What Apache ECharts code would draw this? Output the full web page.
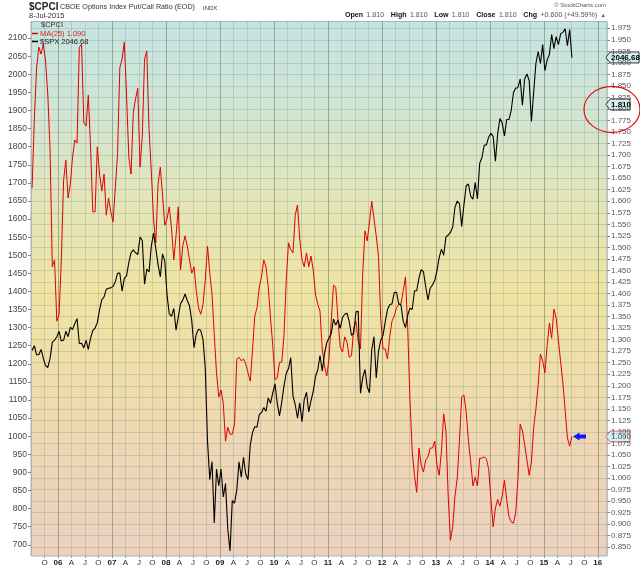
<!DOCTYPE html>
<html><head><meta charset="utf-8">
<script src="https://cdn.jsdelivr.net/npm/echarts@6/dist/echarts.min.js"></script>
<style>html,body{margin:0;padding:0;background:#fff}#c{width:640px;height:569px}</style>
</head><body><div id="c"></div>
<script>
// ---- data (semi-monthly samples starting 8-Jul-2005) ----
const startYear = 2005.52;
const perYear = 24;

const cpciMA25 = [
1.629,1.778,1.889,1.934,1.919,1.941,1.904,1.830,1.711,1.458,
1.473,1.340,1.355,1.473,1.644,1.689,1.607,1.637,1.696,1.733,
1.726,1.934,1.940,1.770,1.763,1.830,1.718,1.577,1.577,1.718,
1.659,1.622,1.659,1.570,1.607,1.577,1.555,1.629,1.703,1.889,
1.908,1.945,1.830,1.696,1.659,1.793,1.822,1.845,1.674,1.741,
1.908,1.926,1.755,1.666,1.562,1.510,1.637,1.674,1.614,1.548,
1.562,1.588,1.540,1.473,1.525,1.588,
1.451,1.503,1.525,1.503,
1.473,1.444,1.458,1.406,1.369,1.355,1.377,1.429,1.503,1.444,
1.399,1.310,1.228,1.176,1.191,1.162,1.080,1.110,1.095,1.095,
1.117,1.258,1.262,1.254,1.258,1.247,1.228,1.210,1.277,1.351,
1.369,1.414,1.436,1.473,1.458,1.414,1.347,1.288,1.213,1.217,
1.251,1.251,1.310,1.429,1.510,1.495,1.488,1.570,1.592,1.518,
1.473,1.458,1.488,1.458,1.481,1.451,1.399,1.377,1.362,
1.280,1.243,1.221,1.258,1.340,1.418,1.414,1.343,1.284,1.273,
1.306,1.295,1.262,1.265,1.325,1.340,1.295,1.280,1.444,1.536,
1.514,1.555,1.600,1.562,1.525,1.481,1.347,1.280,1.280,1.258,
1.306,1.340,1.351,1.369,1.377,1.377,1.406,1.436,1.325,1.169,
1.058,1.006,0.969,1.065,1.028,1.013,1.039,1.046,1.065,1.065,
1.080,1.028,1.006,1.058,1.139,1.102,0.961,0.865,0.894,0.961,0.998,1.080,
1.176,1.180,1.143,1.080,1.035,0.983,1.002,0.983,1.043,1.043,
1.046,1.041,1.019,0.954,0.894,0.935,0.954,0.939,0.961,0.995,
0.954,0.917,0.905,0.902,0.924,0.998,1.117,1.102,1.072,1.039,
1.006,1.035,1.110,1.150,1.202,1.269,1.254,1.228,1.288,1.336,
1.303,1.366,1.347,1.299,1.251,1.206,1.147,1.087,1.069,1.090
];

const spx = [
1237,1250,1225,1225,1240,1215,1195,1190,1215,1260,1265,1275,
1290,1263,1265,1290,1275,1301,1295,1311,1325,1256,1257,1244,1265,1240,1271,1292,1299,1314,1350,1377,1385,1406,1409,1410,
1414,1427,1450,1451,1401,1436,1443,1480,1507,1515,1507,1502,1550,1541,1420,1462,1454,1525,1561,1519,1475,1440,1504,1484,
1390,1338,1331,1353,1293,1330,1366,1376,1393,1375,1360,1318,1245,1282,1296,1292,1267,1188,985,880,930,760,909,863,
909,832,869,743,683,822,815,851,929,887,942,895,880,976,1010,1026,1025,1060,1065,1079,1069,1106,1091,1120,
1145,1091,1056,1095,1139,1174,1187,1217,1111,1087,1050,1092,1040,1102,1121,1067,1098,1124,1165,1183,1223,1180,1228,1258,
1272,1283,1324,1307,1321,1298,1328,1337,1340,1317,1279,1284,1344,1345,1119,1162,1185,1136,1120,1238,1275,1161,1234,1265,
1278,1316,1350,1363,1366,1397,1398,1366,1363,1318,1300,1335,1354,1350,1402,1402,1437,1460,1455,1413,1377,1409,1418,1430,
1457,1494,1517,1500,1551,1556,1563,1578,1632,1650,1643,1580,1640,1692,1697,1663,1655,1701,1656,1754,1770,1804,1805,1827,
1837,1828,1760,1836,1878,1866,1830,1875,1875,1900,1949,1962,1963,1987,1915,1988,2001,1983,1870,1950,2031,2063,2030,2082,
2010,2040,2055,2110,2071,2104,2082,2112,2116,2126,2079,2124,2046
];

const leftTicks = [700,750,800,850,900,950,1000,1050,1100,1150,1200,1250,1300,1350,1400,1450,1500,1550,1600,1650,1700,1750,1800,1850,1900,1950,2000,2050,2100];
const rightTicks = [0.850,0.875,0.900,0.925,0.950,0.975,1.000,1.025,1.050,1.075,1.100,1.125,1.150,1.175,1.200,1.225,1.250,1.275,1.300,1.325,1.350,1.375,1.400,1.425,1.450,1.475,1.500,1.525,1.550,1.575,1.600,1.625,1.650,1.675,1.700,1.725,1.750,1.775,1.800,1.825,1.850,1.875,1.900,1.925,1.950,1.975];
const quarterLetters = ['', 'A', 'J', 'O'];

const lastCPCI = 1.810;
const lastMA = 1.090;
const lastSPX = 2046.68;

// ---- chart ----
const FONT = '"Liberation Sans", Arial, Helvetica, sans-serif';
const qc = 'rgba(100,125,105,0.22)';
const yc = 'rgba(80,100,85,0.45)';
const chart = echarts.init(document.getElementById('c'));
const toXY = arr => arr.map((v, i) => [startYear + i / perYear, v]);

chart.setOption({
  animation: false,
  backgroundColor: '#ffffff',
  grid: {
    left: 31, right: 33, top: 21.5, bottom: 13, show: true,
    borderColor: '#a9b3bb', borderWidth: 1,
    backgroundColor: new echarts.graphic.LinearGradient(0, 0, 0, 1, [
      {offset: 0, color: '#c5e4e1'},
      {offset: 0.15, color: '#cfe5d6'},
      {offset: 0.33, color: '#e2e5bb'},
      {offset: 0.5, color: '#efe4a3'},
      {offset: 0.62, color: '#efdfa8'},
      {offset: 0.8, color: '#eed6b5'},
      {offset: 1, color: '#ebd1bf'}
    ])
  },
  xAxis: {
    type: 'value', min: 2005.5, max: 2016.17, interval: 0.25,
    axisLine: {show: false},
    axisTick: {show: true, length: 2, lineStyle: {color: '#999'}},
    axisLabel: {
      showMinLabel: false, showMaxLabel: false, margin: 3,
      fontSize: 8, color: '#333', fontFamily: FONT,
      formatter: function (v) {
        const k = Math.round(v * 4);
        const q = ((k % 4) + 4) % 4;
        if (q === 0) return '{b|' + String(k / 4).slice(2) + '}';
        return quarterLetters[q];
      },
      rich: {b: {fontWeight: 'bold', fontSize: 8, color: '#222', fontFamily: FONT}}
    },
    splitLine: {show: true, lineStyle: {color: [qc, qc, yc, qc], width: 1}}
  },
  yAxis: [
    {
      type: 'value', position: 'left', min: 669, max: 2146,
      axisLine: {show: false},
      axisTick: {show: true, length: 3, customValues: leftTicks, lineStyle: {color: '#888'}},
      axisLabel: {customValues: leftTicks, margin: 4, fontSize: 8.5, color: '#444', fontFamily: FONT,
        formatter: v => String(Math.round(v))},
      splitLine: {show: false}
    },
    {
      type: 'value', position: 'right', min: 0.831, max: 1.9897,
      axisLine: {show: false},
      axisTick: {show: true, length: 3, customValues: rightTicks, lineStyle: {color: '#888'}},
      axisLabel: {customValues: rightTicks, margin: 4, fontSize: 8, color: '#555', fontFamily: FONT,
        formatter: v => v.toFixed(3)},
      splitLine: {show: true, lineStyle: {color: qc, width: 1}}
    }
  ],
  series: [
    {name: 'MA(25)', type: 'line', yAxisIndex: 1, data: toXY(cpciMA25), showSymbol: false,
     lineStyle: {color: '#e00000', width: 1}, itemStyle: {color: '#e00000'}, z: 3},
    {name: '$SPX', type: 'line', yAxisIndex: 0, data: toXY(spx), showSymbol: false,
     lineStyle: {color: '#000000', width: 1.1}, itemStyle: {color: '#000'}, z: 4}
  ]
});

// ---- annotations positioned via the axes ----
const ySPX = chart.convertToPixel({yAxisIndex: 0}, lastSPX);
const yCP = chart.convertToPixel({yAxisIndex: 1}, lastCPCI);
const yMA = chart.convertToPixel({yAxisIndex: 1}, lastMA);
const xR = 606;

function flag(y, txt, w, fill, stroke, color, bold) {
  return {
    type: 'group', x: xR, y: y, z: 100,
    children: [
      {type: 'polygon', shape: {points: [[0, 0], [4, -5.5], [w, -5.5], [w, 5.5], [4, 5.5]]},
       style: {fill: fill, stroke: stroke, lineWidth: 1}},
      {type: 'text', style: {text: txt, x: 5, y: 0.5, fill: color, fontFamily: FONT,
        fontSize: 8, fontWeight: bold ? 'bold' : 'normal', verticalAlign: 'middle', align: 'left'}}
    ]
  };
}

chart.setOption({
  graphic: [
    // header
    {type: 'text', z: 100, style: {text: '$CPCI', x: 29, y: 7, fill: '#222', fontFamily: FONT, fontSize: 10, fontWeight: 'bold', verticalAlign: 'middle'}},
    {type: 'text', z: 100, style: {text: 'CBOE Options Index Put/Call Ratio (EOD)', x: 60, y: 7.5, fill: '#333', fontFamily: FONT, fontSize: 7.2, verticalAlign: 'middle'}},
    {type: 'text', z: 100, style: {text: 'INDX', x: 203, y: 8, fill: '#333', fontFamily: FONT, fontSize: 6, verticalAlign: 'middle'}},
    {type: 'text', z: 100, style: {text: '8-Jul-2015', x: 29, y: 16, fill: '#333', fontFamily: FONT, fontSize: 7.5, verticalAlign: 'middle'}},
    {type: 'text', z: 100, style: {text: '© StockCharts.com', x: 606, y: 5, fill: '#555', fontFamily: FONT, fontSize: 6, align: 'right', verticalAlign: 'middle'}},
    {type: 'text', z: 100, style: {
      text: '{b|Open} {n|1.810}  {b|High} {n|1.810}  {b|Low} {n|1.810}  {b|Close} {n|1.810}  {b|Chg} {n|+0.600 (+49.59%)} {g|▲}',
      x: 606, y: 15.5, align: 'right', verticalAlign: 'middle',
      rich: {
        b: {fontFamily: FONT, fontSize: 7.1, fontWeight: 'bold', fill: '#111'},
        n: {fontFamily: FONT, fontSize: 7.1, fill: '#555'},
        g: {fontFamily: FONT, fontSize: 5.5, fill: '#2a8a2a'}
      }}},
    // in-plot legend
    {type: 'text', z: 100, style: {text: '$CPCI', x: 41, y: 25, fill: '#333', fontFamily: FONT, fontSize: 7.5, verticalAlign: 'middle'}},
    {type: 'line', z: 100, shape: {x1: 32, y1: 33.5, x2: 38, y2: 33.5}, style: {stroke: '#e00000', lineWidth: 1.5}},
    {type: 'text', z: 100, style: {text: 'MA(25) 1.090', x: 40, y: 33.5, fill: '#e02020', fontFamily: FONT, fontSize: 7.5, verticalAlign: 'middle'}},
    {type: 'line', z: 100, shape: {x1: 32, y1: 41.5, x2: 38, y2: 41.5}, style: {stroke: '#000', lineWidth: 1.5}},
    {type: 'text', z: 100, style: {text: '$SPX 2046.68', x: 40, y: 41.5, fill: '#222', fontFamily: FONT, fontSize: 7.5, verticalAlign: 'middle'}},
    // right-axis value flags
    flag(ySPX, '2046.68', 33, '#d6eeee', '#333', '#000', true),
    flag(yCP, '1.810', 24, '#d6eeee', '#333', '#000', true),
    flag(yMA, '1.090', 24, '#d8eef0', '#e06060', '#445', false),
    // hand-drawn ellipse around last value
    {type: 'ellipse', z: 101, shape: {cx: 612, cy: yCP + 5, rx: 28, ry: 23},
     style: {fill: 'none', stroke: '#e01010', lineWidth: 1.2}},
    // blue arrow pointing to MA value
    {type: 'polygon', z: 101, shape: {points: [[573, yMA], [579.5, yMA - 4], [579.5, yMA - 2], [586, yMA - 2], [586, yMA + 2], [579.5, yMA + 2], [579.5, yMA + 4]]},
     style: {fill: '#1414ff'}}
  ]
});
</script>
</body></html>
